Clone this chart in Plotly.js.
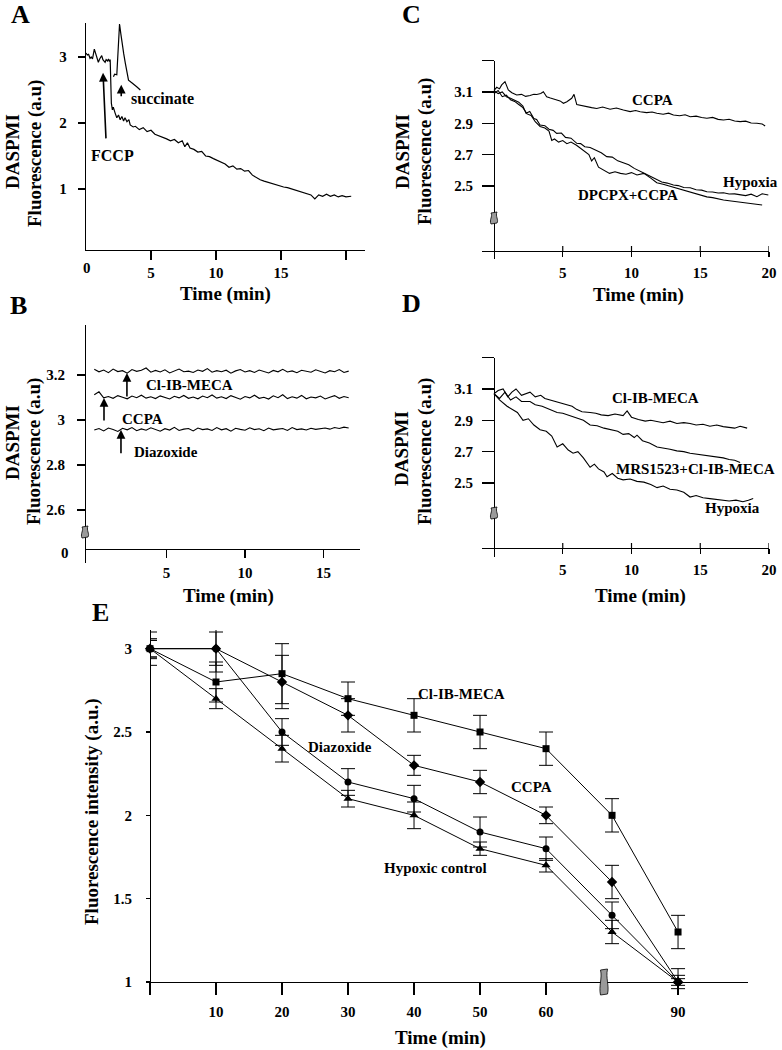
<!DOCTYPE html>
<html><head><meta charset="utf-8">
<script src="https://cdn.plot.ly/plotly-3.0.1.min.js"></script>
<style>html,body{margin:0;padding:0;background:#fff}</style>
</head><body><div id="chart" style="width:782px;height:1050px"></div>
<script>
// ---------- Panel A ----------
const timeA = [0,0.1,0.2,0.31,0.4,0.5,0.64,0.75,0.85,0.95,1.05,1.15,1.21,1.3,1.4,1.47,1.55,1.65,1.73,1.8,1.86,1.9,1.95,2.03,2.1,2.24,2.37,2.5,2.63,2.76,2.89,3.0,3.15,3.3,3.4,3.63,3.8,4.1,4.4,4.7,5.0,5.3,5.6,5.9,6.2,6.5,6.8,7.1,7.4,7.6,7.8,8.0,8.3,8.6,8.9,9.2,9.5,9.8,10.1,10.4,10.7,11.0,11.3,11.6,11.9,12.2,12.5,12.8,13.1,13.4,13.7,14.0,14.3,14.6,14.9,15.2,15.5,15.8,16.1,16.4,16.7,17.0,17.3,17.6,17.9,18.2,18.5,18.8,19.1,19.4,19.7,20.0,20.4];
const fccpA = [3.06,3.03,3.04,2.98,3.0,2.97,3.12,3.05,3.0,2.92,2.97,3.0,3.02,2.96,2.94,2.92,2.96,2.94,2.97,2.93,2.96,2.61,2.3,2.2,2.24,2.15,2.08,2.12,2.05,2.1,2.03,2.08,2.02,2.05,1.97,1.94,1.95,1.90,1.93,1.87,1.89,1.83,1.81,1.79,1.76,1.73,1.75,1.70,1.73,1.64,1.70,1.62,1.60,1.56,1.57,1.50,1.49,1.46,1.43,1.40,1.38,1.33,1.35,1.30,1.31,1.27,1.28,1.21,1.17,1.14,1.12,1.10,1.08,1.06,1.05,1.03,1.02,1.00,0.98,0.96,0.94,0.93,0.91,0.85,0.91,0.89,0.92,0.89,0.91,0.88,0.90,0.88,0.89];
const timeSucc = [2.11,2.2,2.37,2.45,2.52,2.58,2.68,2.76,2.9,3.02,3.15,3.27,3.45,3.66,3.9,4.18];
const succA = [2.70,2.74,2.73,3.1,3.46,3.50,3.35,3.21,3.05,2.91,2.76,2.65,2.62,2.58,2.55,2.50];

// ---------- Panel B ----------
const timeB = [0.4,0.7,1.0,1.3,1.6,1.9,2.2,2.5,2.8,3.1,3.4,3.7,4.0,4.3,4.6,4.9,5.2,5.5,5.8,6.1,6.4,6.7,7.0,7.3,7.6,7.9,8.2,8.5,8.8,9.1,9.4,9.7,10.0,10.3,10.6,10.9,11.2,11.5,11.8,12.1,12.4,12.7,13.0,13.3,13.6,13.9,14.2,14.5,14.8,15.1,15.4,15.7,16.0,16.3,16.6];
const meclB = [3.225,3.214,3.222,3.210,3.226,3.215,3.219,3.208,3.224,3.216,3.221,3.231,3.212,3.220,3.213,3.223,3.209,3.218,3.226,3.214,3.217,3.211,3.222,3.216,3.228,3.212,3.219,3.214,3.221,3.208,3.218,3.224,3.213,3.219,3.211,3.222,3.216,3.209,3.220,3.214,3.225,3.213,3.218,3.210,3.221,3.215,3.212,3.223,3.216,3.209,3.219,3.214,3.224,3.211,3.217];
const ccpaB = [3.112,3.125,3.098,3.104,3.096,3.108,3.101,3.094,3.106,3.099,3.110,3.097,3.103,3.095,3.107,3.100,3.093,3.105,3.098,3.109,3.096,3.102,3.094,3.106,3.099,3.111,3.097,3.103,3.095,3.108,3.100,3.092,3.104,3.098,3.110,3.096,3.101,3.093,3.107,3.099,3.112,3.095,3.103,3.097,3.109,3.094,3.102,3.098,3.106,3.093,3.101,3.108,3.096,3.104,3.099];
const diazB = [2.955,2.962,2.951,2.964,2.957,2.949,2.963,2.956,2.966,2.952,2.960,2.954,2.965,2.958,2.950,2.961,2.955,2.967,2.953,2.959,2.962,2.951,2.964,2.957,2.960,2.953,2.966,2.956,2.961,2.950,2.963,2.958,2.954,2.965,2.957,2.961,2.952,2.964,2.956,2.959,2.962,2.953,2.966,2.957,2.960,2.955,2.963,2.958,2.961,2.964,2.959,2.966,2.962,2.968,2.964];

// ---------- Panel C ----------
const timeC_ccpa = [0,0.2,0.4,0.56,0.8,1.04,1.3,1.65,2.0,2.3,2.62,2.9,3.11,3.4,3.59,3.83,4.1,4.32,4.56,4.8,5.05,5.3,5.65,5.82,6.02,6.4,6.74,7.1,7.47,7.9,8.44,8.9,9.41,9.9,10.3,10.63,11.1,11.5,11.84,12.3,12.7,13.05,13.5,13.9,14.27,14.7,15.1,15.48,15.9,16.3,16.69,17.1,17.5,17.9,18.3,18.7,19.12,19.5,19.72];
const ccpaC = [3.11,3.13,3.12,3.145,3.166,3.113,3.095,3.081,3.085,3.072,3.078,3.086,3.084,3.09,3.102,3.07,3.062,3.056,3.049,3.043,3.028,3.038,3.06,3.085,3.02,3.012,3.006,3.0,2.995,3.004,2.99,2.998,2.985,2.975,2.982,2.974,2.968,2.972,2.964,2.958,2.965,2.953,2.948,2.955,2.942,2.946,2.937,2.932,2.938,2.925,2.921,2.926,2.915,2.911,2.914,2.902,2.90,2.896,2.883];
const timeC_hyp = [0,0.3,0.6,0.9,1.2,1.52,1.8,2.1,2.33,2.6,2.9,3.1,3.35,3.7,4.0,4.3,4.56,4.9,5.2,5.6,6.02,6.3,6.6,6.99,7.4,7.8,8.2,8.6,9.0,9.41,9.8,10.2,10.63,11.0,11.4,11.84,12.2,12.6,13.05,13.4,13.8,14.27,14.7,15.1,15.48,15.9,16.3,16.69,17.1,17.5,17.9,18.3,18.7,19.12,19.5,19.95];
const hypC = [3.11,3.09,3.10,3.07,3.06,3.049,3.035,3.01,2.964,2.975,2.93,2.925,2.889,2.885,2.862,2.855,2.836,2.838,2.81,2.805,2.772,2.77,2.75,2.745,2.728,2.712,2.687,2.684,2.66,2.648,2.635,2.612,2.591,2.578,2.56,2.541,2.525,2.518,2.506,2.502,2.49,2.488,2.475,2.473,2.463,2.461,2.455,2.456,2.448,2.449,2.442,2.438,2.447,2.431,2.450,2.442];
const timeC_dpc = [0,0.3,0.6,0.9,1.2,1.5,1.8,2.1,2.4,2.7,3.0,3.35,3.7,4.0,4.2,4.4,4.7,5.0,5.3,5.6,6.0,6.3,6.6,6.9,7.1,7.3,7.6,8.0,8.4,8.8,9.2,9.6,10.0,10.4,10.9,11.4,11.84,12.3,12.7,13.05,13.5,13.9,14.27,14.7,15.1,15.48,15.9,16.3,16.69,17.1,17.5,17.9,18.3,18.7,19.1,19.5];
const dpcpxC = [3.09,3.11,3.07,3.08,3.05,3.04,3.02,3.00,2.96,2.95,2.91,2.88,2.87,2.85,2.79,2.80,2.78,2.79,2.77,2.78,2.76,2.74,2.72,2.70,2.66,2.68,2.62,2.60,2.58,2.59,2.58,2.575,2.585,2.57,2.58,2.55,2.52,2.51,2.50,2.49,2.48,2.47,2.46,2.45,2.44,2.43,2.425,2.415,2.41,2.405,2.40,2.395,2.39,2.385,2.38,2.378];

// ---------- Panel D ----------
const timeD_mecl = [0,0.3,0.66,1.0,1.3,1.6,2.0,2.3,2.62,3.0,3.4,3.7,4.08,4.4,4.8,5.2,5.68,6.0,6.4,6.99,7.4,7.8,8.3,8.8,9.39,9.68,10.0,10.5,11.0,11.4,11.86,12.3,12.8,13.3,13.8,14.26,14.7,15.2,15.7,16.2,16.67,17.1,17.5,17.9,18.41];
const meclD = [3.07,3.09,3.10,3.05,3.08,3.10,3.06,3.07,3.08,3.05,3.06,3.04,3.03,3.02,3.01,3.00,2.99,2.97,2.955,2.95,2.945,2.935,2.93,2.94,2.93,2.96,2.92,2.905,2.895,2.90,2.89,2.885,2.895,2.88,2.885,2.88,2.87,2.875,2.862,2.87,2.86,2.855,2.85,2.862,2.85];
const timeD_mrs = [0,0.4,0.8,1.2,1.6,2.0,2.62,3.0,3.5,4.0,4.59,5.0,5.5,6.0,6.5,6.99,7.5,8.0,8.5,9.0,9.39,9.8,10.2,10.4,10.8,11.3,11.86,12.3,12.8,13.3,13.8,14.26,14.7,15.2,15.7,16.2,16.67,17.1,17.5,17.9];
const mrsD = [3.07,3.04,3.08,3.03,3.05,3.02,3.02,3.00,2.99,2.97,2.95,2.945,2.93,2.915,2.90,2.87,2.865,2.85,2.84,2.83,2.81,2.815,2.79,2.805,2.77,2.755,2.73,2.725,2.715,2.705,2.70,2.69,2.685,2.675,2.67,2.665,2.66,2.65,2.645,2.63];
const timeD_hyp = [0,0.4,0.95,1.3,1.7,2.11,2.5,2.9,3.35,3.8,4.2,4.59,5.0,5.4,5.75,6.1,6.5,6.99,7.3,7.6,8.0,8.22,8.6,9.0,9.39,9.9,10.4,10.9,11.4,11.86,12.3,12.8,13.3,13.8,14.26,14.7,15.2,15.7,16.2,16.67,17.1,17.6,18.1,18.5,18.85];
const hypD = [3.07,3.03,2.99,2.97,2.95,2.90,2.91,2.87,2.84,2.83,2.80,2.73,2.75,2.71,2.69,2.70,2.66,2.60,2.62,2.59,2.57,2.54,2.56,2.53,2.52,2.525,2.51,2.505,2.49,2.47,2.48,2.46,2.455,2.44,2.41,2.42,2.405,2.40,2.395,2.39,2.385,2.39,2.38,2.39,2.40];

// ---------- Panel E ----------
const timeE = [0,10,20,30,40,50,60,70,80];
const tickValsE = [0,10,20,30,40,50,60,80];
const tickTextE = ['','10','20','30','40','50','60','90'];
const meclE = [3.0,2.8,2.85,2.7,2.6,2.5,2.4,2.0,1.3];
const meclErr = [0.06,0.12,0.18,0.10,0.10,0.10,0.10,0.10,0.10];
const ccpaE = [3.0,3.0,2.8,2.6,2.3,2.2,2.0,1.6,1.0];
const ccpaErr = [0.05,0.10,0.16,0.10,0.06,0.07,0.05,0.10,0.08];
const diazE = [3.0,3.0,2.5,2.2,2.1,1.9,1.8,1.4,1.0];
const diazErr = [0.10,0.14,0.08,0.08,0.08,0.09,0.07,0.08,0.04];
const hypE = [3.0,2.7,2.4,2.1,2.0,1.8,1.7,1.3,1.0];
const hypErr = [0.05,0.06,0.08,0.05,0.08,0.04,0.04,0.07,0.02];

// ---------- geometry helpers ----------
const W = 782, H = 1050;
const fx = p => p / W;
const fy = p => 1 - p / H;
const serif = 'Liberation Serif, Times New Roman, serif';
const tickFont = {family: serif, size: 15, color: '#000', weight: 'bold'};

function ax(extra) {
  return Object.assign({
    showline: true, linecolor: '#000', linewidth: 1.2,
    ticks: 'outside', tickcolor: '#000', tickwidth: 1.2,
    showgrid: false, zeroline: false, tickfont: tickFont,
    tickmode: 'array', fixedrange: true
  }, extra);
}

function line(x, y, xa, ya, w) {
  return {x: x, y: y, xaxis: xa, yaxis: ya, type: 'scatter', mode: 'lines',
          line: {color: '#000', width: w || 1.1}, hoverinfo: 'skip'};
}
function series(y, err, sym, size) {
  return {x: timeE, y: y, xaxis: 'x5', yaxis: 'y5', type: 'scatter', mode: 'lines+markers',
          line: {color: '#000', width: 1}, marker: {symbol: sym, size: size, color: '#000'},
          error_y: {type: 'data', array: err, visible: true, color: '#000', thickness: 1, width: 7},
          cliponaxis: false, hoverinfo: 'skip'};
}

const traces = [
  line(timeA, fccpA, 'x', 'y', 1.2),
  line(timeSucc, succA, 'x', 'y', 1.2),
  line(timeB, meclB, 'x2', 'y2'),
  line(timeB, ccpaB, 'x2', 'y2'),
  line(timeB, diazB, 'x2', 'y2'),
  line(timeC_ccpa, ccpaC, 'x3', 'y3'),
  line(timeC_hyp, hypC, 'x3', 'y3'),
  line(timeC_dpc, dpcpxC, 'x3', 'y3'),
  line(timeD_mecl, meclD, 'x4', 'y4'),
  line(timeD_mrs, mrsD, 'x4', 'y4'),
  line(timeD_hyp, hypD, 'x4', 'y4'),
  series(meclE, meclErr, 'square', 7),
  series(ccpaE, ccpaErr, 'diamond', 8),
  series(diazE, diazErr, 'circle', 7),
  series(hypE, hypErr, 'triangle-up', 8)
];

// ---------- annotations ----------
function txt(text, x, y, size, opts) {
  return Object.assign({text: text, x: fx(x), y: fy(y), xref: 'paper', yref: 'paper',
    xanchor: 'center', yanchor: 'middle', showarrow: false,
    font: {family: serif, size: size, color: '#000', weight: 'bold'}}, opts || {});
}
function arrow(xa, ya, x, y, axp, ayp) {
  return {text: '', x: x, y: y, xref: xa, yref: ya, ax: axp, ay: ayp, showarrow: true,
    arrowhead: 2, arrowsize: 1.1, arrowwidth: 1.6, arrowcolor: '#000'};
}
const annotations = [
  txt('A', 20, 15, 26), txt('C', 412, 15, 26), txt('B', 18, 305, 26),
  txt('D', 412, 303, 26), txt('E', 100, 612, 26),
  // axis titles
  txt('Time (min)', 225, 294, 19), txt('Time (min)', 638, 295, 19),
  txt('Time (min)', 228, 596, 19), txt('Time (min)', 640, 596, 19),
  txt('Time (min)', 440, 1038, 19),
  txt('DASPMI', 12, 152, 19, {textangle: -90}), txt('Fluorescence (a.u)', 35, 154, 19, {textangle: -90}),
  txt('DASPMI', 402, 152, 19, {textangle: -90}), txt('Fluorescence (a.u)', 425, 152, 19, {textangle: -90}),
  txt('DASPMI', 12, 443, 19, {textangle: -90}), txt('Fluorescence (a.u)', 34, 452, 19, {textangle: -90}),
  txt('DASPMI', 402, 449, 19, {textangle: -90}), txt('Fluorescence (a.u)', 425, 452, 19, {textangle: -90}),
  txt('Fluorescence intensity (a.u.)', 92, 812, 19, {textangle: -90}),
  // extra tick labels
  txt('0', 87, 268, 15), txt('0', 65, 553, 15),
  // panel A
  txt('FCCP', 113, 155, 16), txt('succinate', 129, 98, 16, {xanchor: 'left'}),
  arrow('x', 'y', 1.31, 2.76, 3, 67), arrow('x', 'y', 2.71, 2.58, 0, 13),
  // panel B
  txt('Cl-IB-MECA', 144, 385, 15, {xanchor: 'left'}),
  txt('CCPA', 120, 419, 15, {xanchor: 'left'}),
  txt('Diazoxide', 132, 452, 15, {xanchor: 'left'}),
  arrow('x2', 'y2', 2.48, 3.209, 0, 25), arrow('x2', 'y2', 1.02, 3.098, 0, 24),
  arrow('x2', 'y2', 2.10, 2.956, 0, 25),
  // panel C
  txt('CCPA', 652, 100, 15), txt('Hypoxia', 750, 182, 15), txt('DPCPX+CCPA', 628, 195, 15),
  // panel D
  txt('Cl-IB-MECA', 655, 398, 15), txt('MRS1523+Cl-IB-MECA', 695, 469, 15), txt('Hypoxia', 732, 508, 15),
  // panel E
  txt('Cl-IB-MECA', 461, 694, 15), txt('Diazoxide', 340, 747, 15),
  txt('CCPA', 531, 787, 15), txt('Hypoxic control', 435, 868, 15)
];

// ---------- decorative shapes (axis breaks, crossing ticks) ----------
function P(x, y) { return fx(x) + ',' + fy(y); }
function brk(cx, cy, w, h) {
  const a = w / 2, b = h / 2;
  return {type: 'path', xref: 'paper', yref: 'paper', layer: 'above',
    fillcolor: '#9a9a9a', line: {color: '#000', width: 0.8},
    path: 'M' + P(cx - a, cy - b) + ' L' + P(cx + a, cy - b - 1) +
          ' C' + P(cx + a - 2, cy - b / 3) + ' ' + P(cx + a + 2, cy + b / 3) + ' ' + P(cx + a, cy + b) +
          ' L' + P(cx - a, cy + b + 1) +
          ' C' + P(cx - a - 2, cy + b / 3) + ' ' + P(cx - a + 2, cy - b / 3) + ' ' + P(cx - a, cy - b) + ' Z'};
}
const tickValsCD = [5, 10, 15, 20];
const shapes = [brk(85, 532, 6, 10), brk(494, 218, 6, 10), brk(494, 513, 6, 10), brk(604, 982, 7, 24)];
tickValsCD.forEach(t => {
  shapes.push({type: 'line', xref: 'x3', yref: 'paper', x0: t, x1: t, y0: fy(251), y1: fy(246), line: {color: '#000', width: 1.2}});
  shapes.push({type: 'line', xref: 'x4', yref: 'paper', x0: t, x1: t, y0: fy(548), y1: fy(543), line: {color: '#000', width: 1.2}});
});

const layout = {
  width: W, height: H, margin: {l: 0, r: 0, t: 0, b: 0},
  paper_bgcolor: '#fff', plot_bgcolor: 'rgba(0,0,0,0)',
  showlegend: false, hovermode: false,
  font: {family: serif, color: '#000'},
  // A
  xaxis: ax({domain: [fx(86), fx(365)], range: [0, 21.46], anchor: 'y',
             tickvals: [5, 10, 15, 20], ticktext: ['5', '10', '15', ''], ticklen: 9, ticklabelstandoff: 0}),
  yaxis: ax({domain: [fy(250), fy(23)], range: [0.076, 3.515], anchor: 'x',
             tickvals: [1, 2, 3], ticktext: ['1', '2', '3'], ticklen: 7, ticklabelstandoff: 8}),
  // B
  xaxis2: ax({domain: [fx(85), fx(360)], range: [-0.19, 17.32], anchor: 'free', position: fy(549),
              tickvals: [5, 10, 15], ticktext: ['5', '10', '15'], ticklen: 8, ticklabelstandoff: 2}),
  yaxis2: ax({domain: [fy(563), fy(325)], range: [2.364, 3.422], anchor: 'free', position: fx(85),
              tickvals: [2.6, 2.8, 3, 3.2], ticktext: ['2.6', '2.8', '3', '3.2'], ticklen: 8, ticklabelstandoff: 9}),
  // C
  xaxis3: ax({domain: [fx(482), fx(769)], range: [-0.873, 20], anchor: 'free', position: fy(251),
              tickvals: tickValsCD, ticktext: ['5', '10', '15', '20'], ticklen: 5, ticklabelstandoff: 3}),
  yaxis3: ax({domain: [fy(259), fy(60.7)], range: [2.033, 3.3], anchor: 'free', position: fx(494),
              tickvals: [2.5, 2.7, 2.9, 3.1, 3.3], ticktext: ['2.5', '2.7', '2.9', '3.1', ''], ticklen: 12, ticklabelstandoff: 6}),
  // D
  xaxis4: ax({domain: [fx(482), fx(769)], range: [-0.873, 20], anchor: 'free', position: fy(548),
              tickvals: tickValsCD, ticktext: ['5', '10', '15', '20'], ticklen: 5, ticklabelstandoff: 3}),
  yaxis4: ax({domain: [fy(557), fy(357.7)], range: [2.027, 3.3], anchor: 'free', position: fx(494),
              tickvals: [2.5, 2.7, 2.9, 3.1, 3.3], ticktext: ['2.5', '2.7', '2.9', '3.1', ''], ticklen: 12, ticklabelstandoff: 6}),
  // E
  xaxis5: ax({domain: [fx(150), fx(748)], range: [0, 90.6], anchor: 'free', position: fy(982),
              tickvals: tickValsE, ticktext: tickTextE, ticklen: 12, ticklabelstandoff: 4}),
  yaxis5: ax({domain: [fy(993), fy(630)], range: [0.934, 3.112], anchor: 'free', position: fx(150),
              tickvals: [1, 1.5, 2, 2.5, 3], ticktext: ['1', '1.5', '2', '2.5', '3'], ticklen: 4, ticklabelstandoff: 11}),
  annotations: annotations,
  shapes: shapes
};

Plotly.newPlot('chart', traces, layout, {staticPlot: true, displayModeBar: false});
</script></body></html>
